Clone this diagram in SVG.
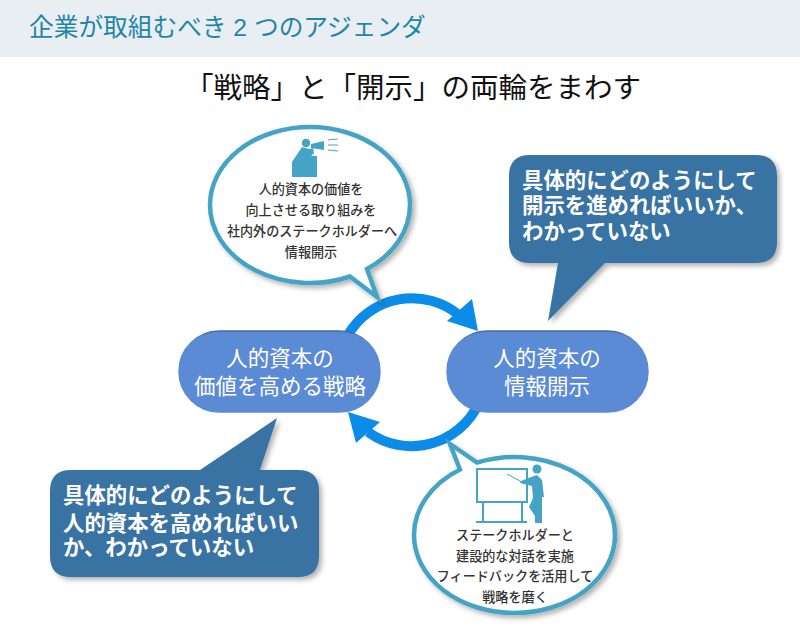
<svg xmlns="http://www.w3.org/2000/svg" width="800" height="628" viewBox="0 0 800 628">
<defs>
<filter id="sh" x="-10%" y="-10%" width="125%" height="125%"><feDropShadow dx="3" dy="3" stdDeviation="2.5" flood-color="#000" flood-opacity="0.3"/></filter>
<linearGradient id="edge" x1="0" y1="0" x2="0" y2="1"><stop offset="0" stop-color="#47699e"/><stop offset="0.12" stop-color="#5b8bd5"/><stop offset="1" stop-color="#5b8bd5"/></linearGradient>
</defs>
<style>
text{font-family:"Liberation Sans","Noto Sans CJK JP",sans-serif;text-anchor:middle}
.arc{fill:none;stroke:#0c8ce9;stroke-width:10}
.head{fill:#0c8ce9}
.bub{fill:#fff;stroke:#45a4c6;stroke-width:4.500;filter:url(#sh);stroke-linejoin:miter}
.call{fill:#3973a3;filter:url(#sh)}
.ic{fill:#45a4c6}
.pl{fill:#5b8bd5;stroke:url(#edge);stroke-width:1.500}
.pt{fill:#fff;font-size:21.500px}
.bt{fill:#333;font-size:13.100px;font-weight:500}
.ct{fill:#fff;font-size:21.400px;font-weight:bold;text-anchor:start}
</style>
<rect width="800" height="57" fill="#e9eef2"/>
<text x="29" y="36" style="text-anchor:start" font-size="24.700" fill="#1f86a8">企業が取組むべき 2 つのアジェンダ</text>
<text x="413" y="98" font-size="28.500" fill="#111">「戦略」と「開示」の両輪をまわす</text>

<g id="connectors">
<path class="arc" d="M348 335A74 74 0 0 1 459 315"/>
<path class="head" d="M472 299L478 331L447 321Z"/>
<path class="arc" d="M482 395A74 74 0 0 1 368 432"/>
<path class="head" d="M348 412L380 422L356 443Z"/>
</g>

<g id="bubble-top">
<path class="bub" d="M367 269L377 297L350 276.500A100 78 0 0 1 210 205A100 78 0 0 1 410 205A100 78 0 0 1 367 269Z"/>
<g class="ic">
<circle cx="306" cy="143" r="4.200"/>
<path d="M302 147L309 149L313 148L314 153L311 156L317 156L317 177L292 177L292 162Z"/>
<path d="M311 144L324 141V150L311 148Z"/>
</g>
<path d="M328 140L338 139M328 145H338M328 150L338 151" stroke="#45a4c6" stroke-width="1" fill="none"/>
<text class="bt" x="311" y="194">人的資本の価値を</text>
<text class="bt" x="311" y="215">向上させる取り組みを</text>
<text class="bt" x="312" y="236">社内外のステークホルダーへ</text>
<text class="bt" x="311" y="257">情報開示</text>
</g>

<g id="callout-right">
<path class="call" d="M530 155H756Q777 155 777 176V242Q777 263 756 263H605L548 321L558 263H530Q509 263 509 242V176Q509 155 530 155Z"/>
<text class="ct" x="522" y="188">具体的にどのようにして</text>
<text class="ct" x="522" y="213">開示を進めればいいか、</text>
<text class="ct" x="522" y="239">わかっていない</text>
</g>

<g id="callout-left">
<path class="call" d="M71 470H200L277 418L260 470H298Q319 470 319 491V556Q319 577 298 577H71Q50 577 50 556V491Q50 470 71 470Z"/>
<text class="ct" x="63" y="503">具体的にどのようにして</text>
<text class="ct" x="63" y="531">人的資本を高めればいい</text>
<text class="ct" x="63" y="555">か、わかっていない</text>
</g>

<g id="node-strategy">
<rect class="pl" x="179" y="331" width="201" height="81" rx="40.500"/>
<text class="pt" x="280" y="366">人的資本の</text>
<text class="pt" x="280" y="394">価値を高める戦略</text>
</g>
<g id="node-disclosure">
<rect class="pl" x="447" y="331" width="201" height="81" rx="40.500"/>
<text class="pt" x="547" y="366">人的資本の</text>
<text class="pt" x="547" y="394">情報開示</text>
</g>

<g id="bubble-bottom">
<path class="bub" d="M460 469.500L450 444L477 462.600A100.500 78 0 0 1 615 535A100.500 78 0 0 1 414 535A100.500 78 0 0 1 460 469.500Z"/>
<path d="M477 469H527V502H477Z M483 502V522M522 502V522M476 522H527" fill="none" stroke="#45a4c6" stroke-width="2"/>
<circle class="ic" cx="537" cy="469" r="4.500"/>
<path class="ic" d="M531 477L537 475L542 480L544 497L542 497L542 523L535 523L535 516L529 507L533 498L532 486L520 483L521 481Z"/>
<path d="M507 474L522 482" stroke="#45a4c6" stroke-width="1"/>
<text class="bt" x="515" y="540">ステークホルダーと</text>
<text class="bt" x="515" y="561">建設的な対話を実施</text>
<text class="bt" x="515" y="581">フィードバックを活用して</text>
<text class="bt" x="515" y="602">戦略を磨く</text>
</g>
</svg>
